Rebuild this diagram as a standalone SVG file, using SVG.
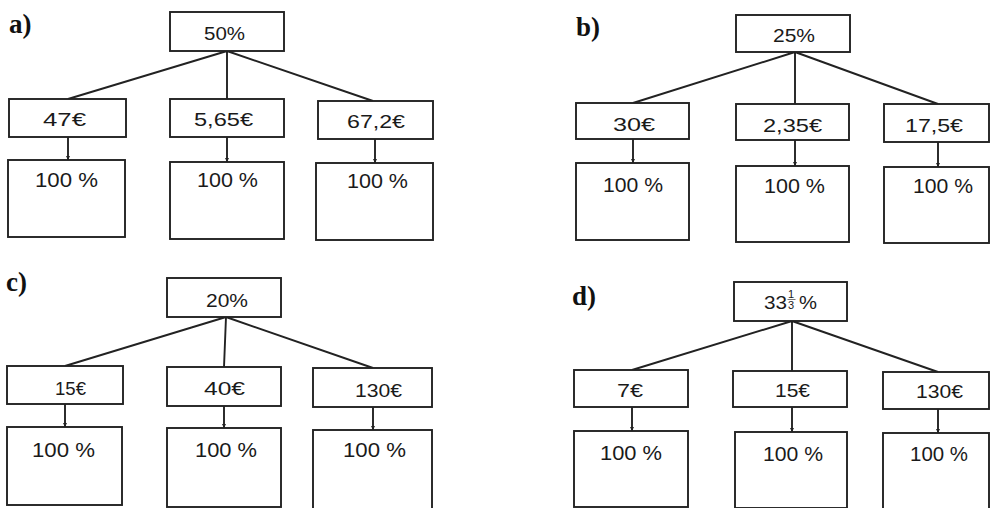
<svg xmlns="http://www.w3.org/2000/svg" width="990" height="508" viewBox="0 0 990 508">
<style>
.bx{fill:#fff;stroke:#222;stroke-width:1.9}
.ln{fill:none;stroke:#222;stroke-width:1.9}
.t{font-family:"Liberation Sans",Arial,sans-serif;font-size:19px;fill:#1a1a1a}
.p{font-family:"Liberation Sans",Arial,sans-serif;font-size:21px;fill:#1a1a1a}
.s{font-family:"Liberation Sans",Arial,sans-serif;font-size:11px;fill:#1a1a1a}
.lab{font-family:"Liberation Serif","Times New Roman",serif;font-weight:bold;font-size:27px;fill:#111}
</style>
<defs>
<marker id="ah" markerWidth="5" markerHeight="5" refX="4" refY="2.5" orient="auto" markerUnits="userSpaceOnUse">
<path d="M0,0.5 L4,2.5 L0,4.5 Z" fill="#222"/>
</marker>
</defs>
<rect width="990" height="508" fill="#fff"/>

<g id="connectors">
<path class="ln" d="M227,51 L68,99 M227,51 L227,99 M227,51 L373,101"/>
<path class="ln" marker-end="url(#ah)" d="M68,137 L68,160"/>
<path class="ln" marker-end="url(#ah)" d="M227,137 L227,162"/>
<path class="ln" marker-end="url(#ah)" d="M375,139 L375,163"/>
<path class="ln" d="M795,52 L633,103 M795,52 L795,104 M795,52 L938,104"/>
<path class="ln" marker-end="url(#ah)" d="M633,139 L633,163"/>
<path class="ln" marker-end="url(#ah)" d="M795,140 L795,166"/>
<path class="ln" marker-end="url(#ah)" d="M938,142 L938,167"/>
<path class="ln" d="M226,317 L65,366 M226,317 L224,367 M226,317 L373,368"/>
<path class="ln" marker-end="url(#ah)" d="M65,404 L65,427"/>
<path class="ln" marker-end="url(#ah)" d="M224,406 L224,428"/>
<path class="ln" marker-end="url(#ah)" d="M373,407 L373,430"/>
<path class="ln" d="M792,321 L632,370 M792,321 L792,371 M792,321 L938,372"/>
<path class="ln" marker-end="url(#ah)" d="M632,407 L632,431"/>
<path class="ln" marker-end="url(#ah)" d="M792,407 L792,432"/>
<path class="ln" marker-end="url(#ah)" d="M938,409 L938,433"/>
</g>

<g id="labels">
<text class="lab" x="9" y="33">a)</text>
<text class="lab" x="576" y="36">b)</text>
<text class="lab" x="6" y="291">c)</text>
<text class="lab" x="572" y="305">d)</text>
</g>

<!-- panel a -->
<g id="a-top"><rect class="bx" x="170" y="12" width="114" height="39"/><text class="t" x="204" y="40" textLength="41" lengthAdjust="spacingAndGlyphs">50%</text></g>
<g id="a-v1"><rect class="bx" x="9" y="99" width="117" height="38"/><text class="t" x="43" y="126" textLength="43" lengthAdjust="spacingAndGlyphs">47€</text></g>
<g id="a-v2"><rect class="bx" x="170" y="99" width="114" height="38"/><text class="t" x="194" y="126" textLength="59" lengthAdjust="spacingAndGlyphs">5,65€</text></g>
<g id="a-v3"><rect class="bx" x="318" y="101" width="115" height="38"/><text class="t" x="347" y="128" textLength="58" lengthAdjust="spacingAndGlyphs">67,2€</text></g>
<g id="a-p1"><rect class="bx" x="8" y="160" width="117" height="77"/><text class="p" x="35" y="187" textLength="63" lengthAdjust="spacingAndGlyphs">100 %</text></g>
<g id="a-p2"><rect class="bx" x="170" y="162" width="114" height="77"/><text class="p" x="197" y="187" textLength="61" lengthAdjust="spacingAndGlyphs">100 %</text></g>
<g id="a-p3"><rect class="bx" x="316" y="163" width="117" height="77"/><text class="p" x="347" y="188" textLength="61" lengthAdjust="spacingAndGlyphs">100 %</text></g>

<!-- panel b -->
<g id="b-top"><rect class="bx" x="736" y="15" width="114" height="37"/><text class="t" x="773" y="42" textLength="42" lengthAdjust="spacingAndGlyphs">25%</text></g>
<g id="b-v1"><rect class="bx" x="576" y="103" width="113" height="36"/><text class="t" x="613" y="131" textLength="42" lengthAdjust="spacingAndGlyphs">30€</text></g>
<g id="b-v2"><rect class="bx" x="736" y="104" width="113" height="36"/><text class="t" x="763" y="132" textLength="59" lengthAdjust="spacingAndGlyphs">2,35€</text></g>
<g id="b-v3"><rect class="bx" x="884" y="104" width="105" height="38"/><text class="t" x="905" y="132" textLength="58" lengthAdjust="spacingAndGlyphs">17,5€</text></g>
<g id="b-p1"><rect class="bx" x="576" y="163" width="113" height="77"/><text class="p" x="603" y="192" textLength="60" lengthAdjust="spacingAndGlyphs">100 %</text></g>
<g id="b-p2"><rect class="bx" x="736" y="166" width="113" height="76"/><text class="p" x="764" y="193" textLength="61" lengthAdjust="spacingAndGlyphs">100 %</text></g>
<g id="b-p3"><rect class="bx" x="884" y="167" width="105" height="76"/><text class="p" x="913" y="193" textLength="60" lengthAdjust="spacingAndGlyphs">100 %</text></g>

<!-- panel c -->
<g id="c-top"><rect class="bx" x="167" y="278" width="114" height="39"/><text class="t" x="206" y="307" textLength="42" lengthAdjust="spacingAndGlyphs">20%</text></g>
<g id="c-v1"><rect class="bx" x="7" y="366" width="116" height="38"/><text class="t" x="55" y="395" textLength="31" lengthAdjust="spacingAndGlyphs">15€</text></g>
<g id="c-v2"><rect class="bx" x="167" y="367" width="114" height="39"/><text class="t" x="204" y="395" textLength="41" lengthAdjust="spacingAndGlyphs">40€</text></g>
<g id="c-v3"><rect class="bx" x="313" y="368" width="119" height="39"/><text class="t" x="355" y="397" textLength="47" lengthAdjust="spacingAndGlyphs">130€</text></g>
<g id="c-p1"><rect class="bx" x="7" y="427" width="115" height="78"/><text class="p" x="32" y="457" textLength="63" lengthAdjust="spacingAndGlyphs">100 %</text></g>
<g id="c-p2"><rect class="bx" x="167" y="428" width="114" height="79"/><text class="p" x="195" y="457" textLength="62" lengthAdjust="spacingAndGlyphs">100 %</text></g>
<g id="c-p3"><rect class="bx" x="313" y="430" width="119" height="79"/><text class="p" x="343" y="457" textLength="63" lengthAdjust="spacingAndGlyphs">100 %</text></g>

<!-- panel d -->
<g id="d-top"><rect class="bx" x="734" y="282" width="113" height="39"/>
<text class="t" x="764" y="309" textLength="23" lengthAdjust="spacingAndGlyphs">33</text>
<text class="s" x="788" y="298">1</text>
<line x1="787.5" y1="299.5" x2="795.5" y2="299.5" stroke="#1a1a1a" stroke-width="0.6"/>
<text class="s" x="788" y="309">3</text>
<text class="t" x="799" y="309" textLength="18" lengthAdjust="spacingAndGlyphs">%</text></g>
<g id="d-v1"><rect class="bx" x="574" y="370" width="114" height="37"/><text class="t" x="617" y="397" textLength="26" lengthAdjust="spacingAndGlyphs">7€</text></g>
<g id="d-v2"><rect class="bx" x="733" y="371" width="114" height="36"/><text class="t" x="775" y="397" textLength="35" lengthAdjust="spacingAndGlyphs">15€</text></g>
<g id="d-v3"><rect class="bx" x="883" y="372" width="106" height="37"/><text class="t" x="916" y="398" textLength="47" lengthAdjust="spacingAndGlyphs">130€</text></g>
<g id="d-p1"><rect class="bx" x="574" y="431" width="114" height="76"/><text class="p" x="600" y="460" textLength="62" lengthAdjust="spacingAndGlyphs">100 %</text></g>
<g id="d-p2"><rect class="bx" x="735" y="432" width="112" height="76"/><text class="p" x="763" y="461" textLength="60" lengthAdjust="spacingAndGlyphs">100 %</text></g>
<g id="d-p3"><rect class="bx" x="883" y="433" width="106" height="76"/><text class="p" x="910" y="461" textLength="58" lengthAdjust="spacingAndGlyphs">100 %</text></g>
</svg>
